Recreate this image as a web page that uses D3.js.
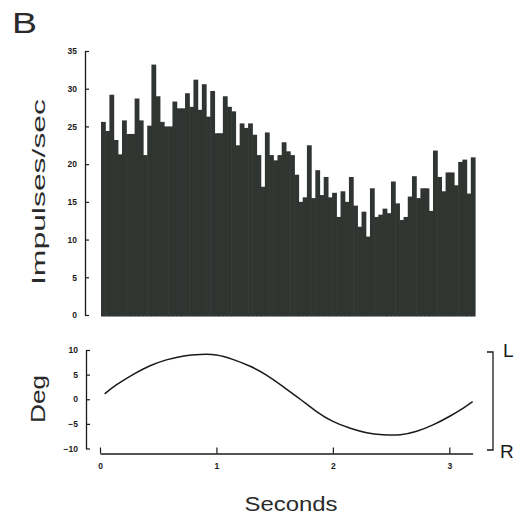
<!DOCTYPE html>
<html><head><meta charset="utf-8">
<script src="https://cdn.jsdelivr.net/npm/d3@7"></script>
<style>body{margin:0;background:#fff}svg{display:block}</style>
</head><body>
<svg id="c" width="516" height="516"></svg>
<script>
// Histogram: impulses/sec per bin
const rates = [25.6,24.4,29.2,23.2,21.3,25.8,24.0,24.0,28.7,25.8,
  21.2,25.1,33.2,29.0,25.6,25.0,25.0,28.3,27.4,27.4,
  29.4,27.6,31.2,27.2,30.6,26.3,29.7,24.1,24.1,29.0,
  27.6,27.0,22.5,25.4,24.8,25.4,23.9,21.2,17.0,24.2,
  21.2,20.5,21.2,22.9,21.7,21.2,18.6,15.0,15.6,22.5,
  15.5,19.2,15.9,18.3,15.6,16.2,13.0,16.4,15.0,18.3,
  14.5,11.7,13.7,10.4,16.8,13.0,13.3,14.1,13.5,17.7,
  14.8,12.6,13.0,15.7,18.4,15.5,16.8,16.8,13.8,21.8,
  18.3,16.4,18.9,18.9,17.2,20.3,20.6,16.1,20.9];
const rateTicks = [0,5,10,15,20,25,30,35];
// Stimulus position (deg) vs time (s)
const stimTime = [0.04,0.14,0.29,0.43,0.57,0.72,0.86,1.0,1.14,1.29,1.43,1.57,1.72,1.86,2.0,2.15,2.29,2.43,2.58,2.72,2.86,3.0,3.12,3.2];
const stimDeg  = [1.1,2.9,5.1,6.8,8.0,8.8,9.1,9.0,8.1,6.7,4.9,2.6,0.0,-2.5,-4.5,-5.9,-6.8,-7.2,-7.2,-6.5,-5.2,-3.5,-1.8,-0.5];
const degTicks = [-10,-5,0,5,10];
const secTicks = [0,1,2,3];

const svg = d3.select('#c');
const ink = '#1a1a1a';
const tickFont = 'Liberation Sans, Arial, sans-serif';
const lblFont = 'Liberation Sans, Arial, sans-serif';

// ---- top panel ----
const yR = d3.scaleLinear().domain([0,35]).range([315,51]);
const xBin = d3.scaleBand().domain(rates.map((d,i)=>i)).range([101,475]).padding(0);
svg.append('g').selectAll('rect').data(rates).join('rect')
  .attr('x',(d,i)=>xBin(i)).attr('width',xBin.bandwidth()+0.6)
  .attr('y',d=>yR(d)).attr('height',d=>yR(0)-yR(d)+1.5)
  .attr('fill','#313532');

const gTop = svg.append('g').attr('transform','translate(85,0)')
  .call(d3.axisLeft(yR).tickValues(rateTicks).tickSize(-4).tickSizeOuter(0).tickPadding(8));
gTop.select('.domain').attr('stroke',ink).attr('stroke-width',1.3);
gTop.selectAll('.tick line').attr('stroke',ink).attr('stroke-width',1.2);
gTop.selectAll('.tick text').attr('font-family',tickFont).attr('font-weight','bold').attr('font-size',8.5).attr('fill',ink);

// ---- bottom panel ----
const xS = d3.scaleLinear().domain([0,3.2]).range([100,472.6]);
const yD = d3.scaleLinear().domain([-10,10]).range([448.5,350]);

const gDeg = svg.append('g').attr('transform','translate(86,0)')
  .call(d3.axisLeft(yD).tickValues(degTicks).tickSize(-4).tickSizeOuter(0).tickPadding(8));
gDeg.select('.domain').attr('stroke',ink).attr('stroke-width',1.3);
gDeg.selectAll('.tick line').attr('stroke',ink).attr('stroke-width',1.2);
gDeg.selectAll('.tick text').attr('font-family',tickFont).attr('font-weight','bold').attr('font-size',8.5).attr('fill',ink);

const gSec = svg.append('g').attr('transform','translate(0,453.5)')
  .call(d3.axisBottom(xS).tickValues(secTicks).tickSize(-6).tickSizeOuter(0).tickPadding(9).tickFormat(d3.format('d')));
gSec.select('.domain').attr('stroke',ink).attr('stroke-width',1.3);
gSec.selectAll('.tick line').attr('stroke',ink).attr('stroke-width',1.2);
gSec.selectAll('.tick text').attr('font-family',tickFont).attr('font-weight','bold').attr('font-size',8.5).attr('fill',ink);

const line = d3.line().x((d,i)=>xS(stimTime[i])).y(d=>yD(d)).curve(d3.curveNatural);
svg.append('path').datum(stimDeg).attr('d',line)
  .attr('fill','none').attr('stroke',ink).attr('stroke-width',1.5);

// L/R bracket
svg.append('path').attr('d','M487,352H493V450H487').attr('fill','none').attr('stroke',ink).attr('stroke-width',1.3);
svg.append('text').attr('x',503).attr('y',357).attr('font-family',lblFont).attr('font-size',19).attr('fill',ink).text('L');
svg.append('text').attr('x',500).attr('y',458).attr('font-family',lblFont).attr('font-size',19).attr('fill',ink).text('R');

// titles
svg.append('text').attr('transform','translate(45,192) rotate(-90)').attr('text-anchor','middle')
  .attr('font-family',lblFont).attr('font-size',19).attr('fill','#2a2a2a')
  .attr('textLength',186).attr('lengthAdjust','spacingAndGlyphs').text('Impulses/sec');
svg.append('text').attr('transform','translate(45,399) rotate(-90)').attr('text-anchor','middle')
  .attr('font-family',lblFont).attr('font-size',20).attr('fill','#2a2a2a')
  .attr('textLength',48).attr('lengthAdjust','spacingAndGlyphs').text('Deg');
svg.append('text').attr('x',291).attr('y',511).attr('text-anchor','middle')
  .attr('font-family',lblFont).attr('font-size',20).attr('fill','#2a2a2a')
  .attr('textLength',93).attr('lengthAdjust','spacingAndGlyphs').text('Seconds');
svg.append('text').attr('x',12).attr('y',33)
  .attr('font-family',lblFont).attr('font-size',30).attr('fill','#2a2a2a')
  .attr('textLength',25).attr('lengthAdjust','spacingAndGlyphs').text('B');
</script>
</body></html>
